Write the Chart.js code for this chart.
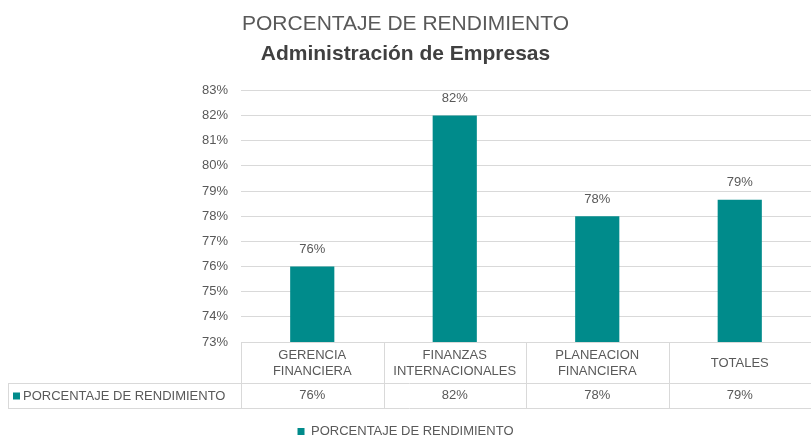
<!DOCTYPE html>
<html lang="es">
<head>
  <meta charset="UTF-8" />
  <title>Porcentaje de Rendimiento</title>
  <script src="https://cdn.jsdelivr.net/npm/chart.js"></script>
  <style>
    body { margin: 0; background: #fff; }
    #chart { display: block; }
  </style>
</head>
<body>
  <canvas id="chart" width="811" height="436"></canvas>
  <script>
    // datos
    const categories = [
      ['GERENCIA', 'FINANCIERA'],
      ['FINANZAS', 'INTERNACIONALES'],
      ['PLANEACION', 'FINANCIERA'],
      ['TOTALES']
    ];
    const rendimiento = [76, 82, 78, 78.65];
    const seriesName = 'PORCENTAJE DE RENDIMIENTO';

    const teal = '#008b8b';
    const textColor = '#595959';
    const lineColor = '#d9d9d9';
    const font = '"Liberation Sans", Arial, sans-serif';

    const pct = v => Math.round(v) + '%';

    // etiquetas sobre las barras
    const valueLabels = {
      id: 'valueLabels',
      afterDatasetsDraw(chart) {
        const ctx = chart.ctx;
        const meta = chart.getDatasetMeta(0);
        ctx.save();
        ctx.font = '13px ' + font;
        ctx.fillStyle = textColor;
        ctx.textAlign = 'center';
        ctx.textBaseline = 'middle';
        meta.data.forEach((bar, i) => {
          ctx.fillText(pct(rendimiento[i]), bar.x, bar.y - 17);
        });
        ctx.restore();
      }
    };

    // tabla de datos debajo del eje x
    const dataTable = {
      id: 'dataTable',
      afterDraw(chart) {
        const ctx = chart.ctx;
        const area = chart.chartArea;
        const xs = chart.scales.x;
        const top = area.bottom;
        const mid = top + 41;
        const bot = top + 66;
        const left = area.left;
        const right = area.right;
        const colW = (right - left) / categories.length;

        ctx.save();
        ctx.strokeStyle = lineColor;
        ctx.lineWidth = 1;
        ctx.beginPath();
        ctx.moveTo(left, top + 0.5); ctx.lineTo(right, top + 0.5);
        ctx.moveTo(8, mid + 0.5); ctx.lineTo(right, mid + 0.5);
        ctx.moveTo(8, bot + 0.5); ctx.lineTo(right, bot + 0.5);
        ctx.moveTo(8.5, mid); ctx.lineTo(8.5, bot);
        for (let i = 0; i <= categories.length; i++) {
          const x = Math.round(left + colW * i) + 0.5;
          ctx.moveTo(x, top); ctx.lineTo(x, bot);
        }
        ctx.stroke();

        ctx.font = '13px ' + font;
        ctx.fillStyle = textColor;
        ctx.textAlign = 'center';
        ctx.textBaseline = 'middle';
        categories.forEach((lines, i) => {
          const x = xs.getPixelForValue(i);
          const cy = top + 21;
          const lh = 16;
          lines.forEach((t, j) => {
            ctx.fillText(t, x, cy + (j - (lines.length - 1) / 2) * lh);
          });
          ctx.fillText(pct(rendimiento[i]), x, (mid + bot) / 2);
        });

        ctx.fillStyle = teal;
        ctx.fillRect(13, (mid + bot) / 2 - 3, 7, 7);
        ctx.fillStyle = textColor;
        ctx.textAlign = 'left';
        ctx.fillText(seriesName, 23, (mid + bot) / 2 + 0.5);
        ctx.restore();
      }
    };

    new Chart(document.getElementById('chart'), {
      type: 'bar',
      data: {
        labels: categories,
        datasets: [{
          label: seriesName,
          data: rendimiento,
          backgroundColor: teal,
          categoryPercentage: 1,
          barPercentage: 0.31
        }]
      },
      options: {
        responsive: false,
        animation: false,
        layout: { padding: { top: 0, right: 0, bottom: -12, left: 0 } },
        plugins: {
          title: {
            display: true,
            text: 'PORCENTAJE DE RENDIMIENTO',
            color: textColor,
            font: { family: font, size: 21, weight: 'normal' },
            padding: { top: 12, bottom: 4 }
          },
          subtitle: {
            display: true,
            text: 'Administración de Empresas',
            color: '#404040',
            font: { family: font, size: 21, weight: 'bold' },
            padding: { top: 0, bottom: 24 }
          },
          legend: {
            position: 'bottom',
            labels: {
              color: textColor,
              font: { family: font, size: 13 },
              boxWidth: 7,
              boxHeight: 7,
              padding: 0
            }
          },
          tooltip: { enabled: false }
        },
        scales: {
          x: {
            grid: { display: false },
            border: { display: false },
            ticks: { display: false },
            afterFit(scale) { scale.height = 83; }
          },
          y: {
            min: 73,
            max: 83,
            grid: { color: lineColor, drawTicks: false },
            border: { display: false },
            ticks: {
              stepSize: 1,
              color: textColor,
              font: { family: font, size: 13 },
              padding: 13,
              callback: v => v + '%'
            },
            afterFit(scale) { scale.width = 241; }
          }
        }
      },
      plugins: [valueLabels, dataTable]
    });
  </script>
</body>
</html>
